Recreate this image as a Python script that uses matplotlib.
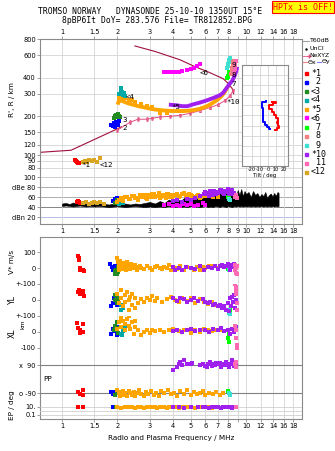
import matplotlib
matplotlib.use("Agg")
import matplotlib.pyplot as plt
from matplotlib.lines import Line2D
from matplotlib.patches import Rectangle

W, H = 335, 451

# echo traces (name shown in legend, colour)
trace_names = ['*1', ' 2', '<3', '<4', '*5', '<6', ' 7', ' 8', ' 9', '*10', ' 11', '<12']
trace_colors = ['#ff0000', '#0000ff', '#228b22', '#00a8a8', '#ffa500', '#ff00ff',
                '#00ff00', '#f08080', '#40e0d0', '#a020f0', '#ff69b4', '#daa520']

freq_ticks = [1, 1.5, 2, 3, 4, 5, 6, 7, 8, 9, 10, 12, 14, 16, 18]

# virtual height R' (km) per trace
vh_f = {'*1': [1.17, 1.19, 1.2, 1.21, 1.22, 1.23],
        '<12': [1.3, 1.33, 1.36, 1.4, 1.45, 1.5, 1.55, 1.6],
        ' 2': [1.85, 1.9, 1.92, 1.95, 1.97, 2.0, 2.02, 2.05],
        '<3': [1.92, 1.95, 1.97, 2.0, 2.02, 2.04, 2.06],
        '<4': [2.05, 2.08, 2.1, 2.12, 2.15, 2.18, 2.2],
        '<6': [3.6, 3.75, 3.9, 4.1, 4.3, 4.5, 4.8, 5.0, 5.2, 5.4, 5.6],
        ' 7': [7.9, 7.95, 8.0, 8.05, 8.1],
        ' 8': [8.3, 8.35, 8.4, 8.45, 8.5],
        ' 9': [7.9, 7.95, 8.0, 8.05, 8.1, 8.15],
        ' 11': [8.6, 8.65, 8.7, 8.75, 8.8]}
vh_km = {'*1': [91, 90, 89, 88, 87, 86],
         '<12': [88, 90, 89, 91, 90, 92, 89, 95],
         ' 2': [172, 168, 178, 165, 182, 175, 170, 185],
         '<3': [195, 200, 205, 198, 210, 203, 196],
         '<4': [300, 315, 330, 310, 295, 305, 290],
         '<6': [440, 440, 440, 442, 445, 450, 460, 470, 480, 495, 510],
         ' 7': [395, 405, 415, 425, 440],
         ' 8': [430, 455, 480, 505, 540],
         ' 9': [480, 495, 510, 530, 545, 565],
         ' 11': [440, 465, 490, 515, 540]}
f5_freq = [2.02, 2.05, 2.1, 2.15, 2.2, 2.3, 2.4, 2.5, 2.6, 2.8, 3.0, 3.2, 3.4, 3.6, 3.8, 4.0,
           4.3, 4.6, 5.0, 5.3, 5.6, 6.0, 6.3, 6.6, 7.0, 7.3, 7.6, 7.9]
f5_km = [255, 270, 265, 262, 258, 252, 248, 244, 240, 235, 230, 226, 224, 222, 221, 220,
         220, 220, 222, 225, 229, 237, 245, 255, 270, 285, 305, 335]
f5_extra_freq = [2.05, 2.1, 2.15, 2.2, 2.3, 2.4, 2.5, 2.7, 2.9, 3.1, 3.4, 3.7]
f5_extra_km = [282, 288, 276, 279, 270, 266, 258, 250, 242, 236, 214, 212]
f10_freq = [3.9, 4.2, 4.5, 4.8, 5.15, 5.6, 6.0, 6.36, 6.8, 7.2, 7.5, 7.85, 8.1, 8.4, 8.6, 8.75, 8.9]
f10_km = [246, 244, 240, 240, 248, 256, 264, 272, 282, 292, 305, 334, 355, 378, 405, 429, 470]

# model profile and NeXYZ points
model_freq = [0.76, 1.12, 2.0, 2.1]
model_km = [105, 109, 160, 166]
upper_freq = [2.49, 3.2, 4.38, 5.16, 6.3, 7.5, 8.0, 8.4, 8.55]
upper_km = [706, 640, 551, 494, 440, 393, 360, 329, 300]
nexyz_freq = [2.0, 2.34, 2.59, 2.89, 3.08, 3.41, 3.86, 4.38, 4.96, 5.62, 6.36, 7.04, 7.7, 8.18, 8.5]
nexyz_km = [156, 180, 190, 190, 193, 198, 200, 204, 211, 222, 234, 247, 266, 290, 318]

# trace labels in the R' panel
label_text = ['*1', '<12', '2', '3', '<4', '*5', '<6', '7', '8', '9', '11', '*10']
label_freq = [1.27, 1.6, 2.12, 2.12, 2.22, 3.95, 5.6, 8.3, 8.3, 8.35, 9.5, 7.8]
label_km = [84, 84, 162, 187, 282, 236, 432, 360, 418, 505, 470, 258]

# amplitude panel (dB)
black_f = [1.0, 1.05, 1.1, 1.15, 1.2, 1.25, 1.3, 1.35, 1.4, 1.45, 1.5, 1.55, 1.6, 1.7, 1.8,
           1.9, 2.0, 2.1, 2.2, 2.35, 2.5, 2.65, 2.8, 3.0, 3.2, 3.4, 3.6, 3.8, 4.0, 4.2,
           4.4, 4.6, 4.8, 5.0, 5.2, 5.4, 5.6, 5.8, 6.0, 6.2, 6.4, 6.6, 6.8, 7.0, 7.2,
           7.4, 7.6, 7.8, 8.0, 8.2, 8.4, 8.6, 8.8, 9.0, 9.2, 9.4, 9.6, 9.8, 10.0, 10.3,
           10.6, 10.9, 11.2, 11.5, 11.8, 12.1, 12.4, 12.7, 13.0, 13.3, 13.6, 13.9, 14.2, 14.5,
           14.8, 15.0]
black_hi = [47, 48, 46, 49, 47, 50, 48, 46, 49, 47, 46, 48, 47, 46, 45,
            47, 48, 46, 47, 45, 47, 46, 48, 50, 47, 52, 48, 55, 50, 56,
            52, 58, 54, 60, 55, 57, 62, 58, 65, 72, 68, 75, 70, 74, 68,
            72, 66, 70, 64, 68, 62, 66, 60, 74, 64, 76, 62, 72, 66, 70,
            60, 72, 64, 68, 60, 66, 62, 70, 58, 64, 67, 61, 68, 62, 70, 68]
black_lo = [42, 43, 42, 41, 42, 43, 42, 41, 42, 42, 41, 42, 42, 41, 40,
            41, 42, 41, 40, 41, 42, 41, 40, 41, 40, 41, 40, 42, 40, 41,
            40, 41, 40, 42, 40, 41, 40, 41, 42, 40, 41, 40, 42, 41, 40,
            42, 41, 40, 42, 41, 40, 42, 41, 42, 41, 42, 41, 42, 41, 42,
            41, 42, 41, 42, 41, 42, 41, 42, 41, 42, 41, 42, 41, 42, 41, 42]
db_f = {'*1': [1.2, 1.22, 1.24, 1.26],
        '<12': [1.3, 1.35, 1.4, 1.45, 1.5, 1.55, 1.6, 1.7],
        ' 2': [1.9, 1.95, 2.0],
        '<3': [1.95, 2.0, 2.05],
        '<4': [2.05, 2.1, 2.15],
        '*5': [2.0, 2.05, 2.1, 2.15, 2.2, 2.3, 2.4, 2.5, 2.6, 2.7, 2.8, 2.9, 3.0, 3.1, 3.2, 3.3,
               3.4, 3.5, 3.6, 3.7, 3.8, 3.9, 4.0, 4.2, 4.4, 4.6, 4.8, 5.0, 5.2, 5.4, 5.6, 5.8,
               6.0, 6.3, 6.6, 7.0, 2.12, 2.25, 2.35, 2.45, 2.55, 2.65, 2.75, 2.85, 2.95, 3.05,
               3.15, 3.25, 3.35, 3.45, 3.55, 3.65, 3.75, 3.85, 3.95, 4.1, 4.3, 4.5, 4.7, 4.9,
               5.1, 5.3, 5.5, 5.7, 5.9, 6.1],
        '<6': [3.6, 3.8, 4.0, 4.2, 4.4, 4.6, 4.8, 5.0, 5.2, 5.5, 5.8, 6.0],
        '*10': [4.0, 4.2, 4.5, 4.8, 5.0, 5.3, 5.6, 5.9, 6.0, 6.2, 6.4, 6.6, 6.8, 7.0, 7.2, 7.4,
                7.6, 7.8, 8.0, 8.2, 8.4, 8.6, 8.8, 6.1, 6.3, 6.5, 6.7, 6.9, 7.1, 7.3, 7.5, 7.7,
                7.9, 8.1, 8.3, 8.5],
        ' 7': [8.0, 8.1], ' 9': [8.1, 8.2], ' 11': [8.7, 8.8, 8.9]}
db_val = {'*1': [50, 53, 51, 49],
          '<12': [48, 50, 47, 49, 51, 48, 50, 47],
          ' 2': [52, 56, 58],
          '<3': [48, 54, 50],
          '<4': [46, 50, 48],
          '*5': [50, 55, 58, 52, 60, 56, 62, 58, 55, 60, 64, 57, 61, 66, 60, 63,
                 58, 65, 62, 67, 60, 64, 62, 66, 63, 68, 64, 65, 60, 62, 58, 63,
                 66, 64, 61, 60, 55, 60, 57, 63, 59, 65, 61, 58, 64, 60, 66, 62,
                 68, 61, 64, 59, 66, 63, 60, 64, 60, 66, 62, 67, 63, 60, 65, 61, 64, 62],
          '<6': [44, 46, 42, 45, 43, 47, 44, 46, 43, 45, 48, 44],
          '*10': [52, 55, 50, 56, 54, 58, 62, 66, 70, 68, 72, 65, 70, 68, 74, 70,
                  66, 72, 76, 70, 74, 68, 64, 66, 63, 69, 73, 66, 71, 75, 68, 73,
                  70, 67, 72, 66],
          ' 7': [60, 58], ' 9': [56, 54], ' 11': [60, 64, 58]}

# doppler velocity V* (m/s)
vs_f = {'*1': [1.22, 1.23, 1.24, 1.25, 1.25, 1.3, 1.31],
        ' 2': [1.82, 1.86, 1.9, 1.93, 1.96, 1.98, 2.0],
        '<3': [1.93, 1.95, 1.97, 1.99, 2.01, 2.02],
        '<4': [2.05, 2.07, 2.1, 2.12, 2.15],
        '*5': [2.0, 2.02, 2.04, 2.05, 2.07, 2.08, 2.1, 2.12, 2.14, 2.15, 2.18, 2.2, 2.22, 2.25,
               2.28, 2.3, 2.33, 2.36, 2.4, 2.45, 2.5, 2.55, 2.6, 2.65, 2.7, 2.8, 2.9, 3.0,
               3.1, 3.2, 3.3, 3.4, 3.5, 3.6, 3.7, 3.8, 3.9, 4.0, 4.1, 4.2, 4.4, 4.6, 4.8,
               5.0, 5.2, 5.4, 5.6, 5.8, 6.0, 6.3, 6.6, 7.0],
        '*10': [4.0, 4.1, 4.3, 4.5, 4.7, 5.0, 5.3, 5.6, 5.9, 6.2, 6.5, 6.8, 7.0, 7.2, 7.4,
                7.6, 7.8, 8.0, 8.1, 8.2, 8.3, 8.4, 8.5, 8.6, 8.7],
        ' 7': [8.0, 8.05], ' 9': [8.1],
        ' 11': [8.7, 8.75, 8.8, 8.85, 8.9, 8.9]}
vs_val = {'*1': [75, 62, 48, 0, -15, -10, -20],
          ' 2': [25, 5, -10, 10, -5, 15, 0],
          '<3': [-20, -35, -10, -40, -25, 5],
          '<4': [40, 30, 20, -5, 10],
          '*5': [60, 35, 15, -10, 45, 5, 25, -5, 30, 10, 0, 20, -15, 35,
                 5, 15, -5, 25, 10, 0, 20, -10, 5, 15, 0, -5, 10, 0,
                 -10, 5, 15, 0, -5, 5, 0, 20, -10, 5, 0, -5, 10, -10, 5,
                 0, -15, 5, -10, 5, 0, 10, 15, 0],
          '*10': [5, -10, 0, -15, 5, 0, -5, 10, -10, 5, 0, 15, -5, 10, 20,
                  5, 15, 25, 10, -10, 20, 5, 15, 25, 10],
          ' 7': [-5, -15], ' 9': [-10],
          ' 11': [20, -10, -30, 0, -40, 10]}

# YL (km)
yl_f = {'*1': [1.22, 1.24, 1.25, 1.3, 1.31, 1.3],
        ' 2': [1.85, 1.9, 1.92, 1.95, 1.97, 2.0],
        '<3': [1.93, 1.95, 1.98, 2.0, 2.02],
        '<4': [2.08, 2.1, 2.15, 2.2],
        '*5': [2.0, 2.05, 2.1, 2.1, 2.15, 2.2, 2.2, 2.25, 2.3, 2.3, 2.35, 2.4, 2.4, 2.5, 2.5,
               2.6, 2.7, 2.8, 2.9, 3.0, 3.1, 3.2, 3.3, 3.5, 3.7, 3.9, 4.1, 4.3, 4.5, 4.8,
               5.0, 5.3, 5.6, 5.9, 6.2, 6.5, 6.8, 7.2],
        '*10': [4.0, 4.2, 4.4, 4.6, 4.8, 5.0, 5.2, 5.5, 5.8, 6.0, 6.2, 6.4, 6.6, 6.8, 7.0,
                7.2, 7.4, 7.6, 7.8, 8.0, 8.1, 8.2, 8.3, 8.4, 8.5, 8.6, 8.7, 8.8],
        ' 7': [8.1, 8.15], ' 9': [8.05, 8.1, 8.15],
        ' 11': [8.75, 8.8, 8.85, 8.9, 8.9, 8.85]}
yl_val = {'*1': [50, 62, 37, 45, 27, 55],
          ' 2': [-40, -20, 10, -5, 20, -30],
          '<3': [0, 30, -20, 10, -10],
          '<4': [-60, -30, -50, -10],
          '*5': [40, -20, 60, 10, -40, 30, -10, 50, -60, 0, 20, -30, 40, -50, 10,
                 -20, 5, -10, 15, 0, 25, -5, 10, -15, 5, 20, 0, -10, 15, -5,
                 10, -20, 5, -10, -25, -15, -30, -40],
          '*10': [10, -5, 15, 5, -10, 0, 10, -5, 5, -10, -20, -15, -30, -25, -40,
                  -30, -50, -35, -60, -20, -70, 10, -40, 20, -10, 30, -50, 0],
          ' 7': [110, -60], ' 9': [-80, -60, -90],
          ' 11': [100, 80, 40, -20, -60, 60]}

# XL (km)
xl_f = {'*1': [1.2, 1.22, 1.25, 1.25, 1.3, 1.3],
        ' 2': [1.85, 1.9, 1.95, 1.98, 2.0],
        '<3': [1.92, 1.95, 1.98, 2.0, 2.02],
        '<4': [2.08, 2.12, 2.15, 2.2],
        '*5': [2.0, 2.05, 2.1, 2.1, 2.15, 2.2, 2.2, 2.25, 2.3, 2.3, 2.35, 2.4, 2.45, 2.5, 2.5,
               2.6, 2.7, 2.8, 2.9, 3.0, 3.1, 3.2, 3.4, 3.6, 3.8, 4.0, 4.3, 4.6, 5.0, 5.3,
               5.6, 5.9, 6.2, 6.5, 6.8, 7.2],
        '*10': [4.0, 4.2, 4.5, 4.8, 5.0, 5.3, 5.6, 6.0, 6.3, 6.6, 7.0, 7.3, 7.6, 8.0, 8.2,
                8.4, 8.6, 8.8],
        ' 7': [8.0, 8.1, 8.05],
        ' 11': [8.75, 8.8, 8.85, 8.9, 8.9]}
xl_val = {'*1': [55, 25, 10, -5, 50, 0],
          ' 2': [-10, 20, 5, -20, 30],
          '<3': [10, 40, 60, 25, -5],
          '<4': [-10, -20, 5, 40],
          '*5': [20, 60, 90, 30, 70, 10, 50, 80, 40, 100, 20, 60, -10, 30, 70,
                 10, -20, 0, 15, -5, 10, 5, 15, 0, 10, 20, 5, 10, -5, 15,
                 0, 20, 10, 5, 15, 10],
          '*10': [5, 15, 0, 10, 20, 5, 10, 15, 0, 20, 10, 25, 5, 15, -10,
                  20, 0, 30],
          ' 7': [-40, -60, -10],
          ' 11': [40, 10, -40, -80, -100]}

# polarisation PP (deg)
pp_f = {'*1': [1.22, 1.25, 1.3, 1.3],
        ' 2': [1.85, 1.9, 1.95],
        '<3': [1.95, 2.0],
        '*5': [2.0, 2.03, 2.06, 2.09, 2.12, 2.15, 2.18, 2.21, 2.25, 2.3, 2.35, 2.4, 2.45, 2.5,
               2.56, 2.62, 2.7, 2.78, 2.86, 2.95, 3.05, 3.15, 3.25, 3.35, 3.45, 3.6, 3.75,
               3.9, 4.05, 4.2, 4.4, 4.6, 4.8, 5.0, 5.2, 5.4, 5.6, 5.8, 6.0, 6.3, 6.6, 6.9,
               7.2, 7.5],
        '*10': [4.0, 4.2, 4.3, 4.4, 4.5, 4.6, 4.8, 5.0, 5.1, 5.6, 5.8, 6.0, 6.2, 6.4, 6.6,
                6.8, 7.0, 7.2, 7.4, 7.6, 7.8, 8.0, 8.2, 8.4, 8.6, 8.8, 6.1, 6.5, 6.9, 7.3,
                7.7, 8.1, 8.5],
        ' 7': [8.0], ' 9': [8.1, 8.15, 8.2],
        ' 11': [8.75, 8.8, 8.85]}
pp_val = {'*1': [-80, -95, -70, -105],
          ' 2': [-85, -95, -80],
          '<3': [-100, -90],
          '*5': [-72, -92, -108, -85, -99, -76, -104, -88, -112, -74, -90, -100, -80, -106,
                 -87, -71, -95, -109, -84, -98, -75, -103, -89, -110, -79, -91, -70, -97,
                 -88, -107, -78, -93, -73, -101, -86, -96, -90, -77, -105, -87, -94, -82,
                 -100, -89],
          '*10': [60, 80, 100, 110, 90, 120, 95, 100, 105, 90, 100, 85, 95, 110, 100,
                  90, 95, 105, 100, 90, 110, 95, 100, 120, 85, 90, 78, 84, 102, 80,
                  88, 76, 105],
          ' 7': [-75], ' 9': [-90, -95, -100],
          ' 11': [100, 80, 110]}

# EP (deg)
ep_f = {'*1': [1.22, 1.3],
        ' 2': [1.9, 1.95],
        '<3': [1.97, 2.0],
        '*5': [2.0, 2.1, 2.2, 2.3, 2.4, 2.5, 2.6, 2.7, 2.8, 2.9, 3.0, 3.1, 3.2, 3.3, 3.4, 3.5,
               3.6, 3.7, 3.8, 3.9, 4.0, 4.15, 4.3, 4.45, 4.6, 4.8, 5.0, 5.25, 5.5, 5.75, 6.0,
               6.25, 6.5],
        '*10': [4.0, 4.3, 4.6, 5.0, 5.5, 5.8, 6.0, 6.3, 6.5, 6.8, 7.0, 7.3, 7.5, 7.8, 8.0,
                8.2, 8.4, 8.6, 8.8],
        ' 11': [8.8, 8.85]}
ep_val = {'*1': [9, 10],
          ' 2': [11, 10],
          '<3': [9, 10],
          '*5': [10, 7, 12, 8, 11, 6, 10, 13, 7, 9, 12, 8, 10, 6, 11, 9, 13, 7, 10, 8,
                 12, 9, 6, 11, 8, 10, 13, 7, 9, 12, 8, 10, 7],
          '*10': [9, 12, 7, 11, 8, 10, 13, 7, 11, 9, 12, 6, 10, 8, 12, 9, 7, 11, 10],
          ' 11': [10, 12]}

# tilt inset
tilt_red_deg = [4.6, 8.8, 10.8, 2, 0.5, 3, 6, 8.8, 11, 12.9, 10, 15, 12.9, 9]
tilt_red_km = [418, 415, 412, 400, 392, 380, 365, 352, 340, 320, 311, 300, 288, 276]
tilt_blue_deg = [-2, -3.8, -10, -5.8, -7.9, -3.8, -7.9, -5.8, -2.5, 0.4, 2.5]
tilt_blue_km = [420, 418, 402, 386, 369, 352, 336, 319, 303, 292, 282]

colors = dict(zip(trace_names, trace_colors))
tick_font = dict(fontsize=4.8, family='DejaVu Sans')
FLIM = (0.76, 20.1)


def pax(x0, y0, x1, y1, **kw):
    return fig.add_axes([x0 / W, 1 - y1 / H, (x1 - x0) / W, (y1 - y0) / H], **kw)


def setup_freq(ax, labels=None, where='bottom'):
    ax.set_xscale('log')
    ax.set_xlim(*FLIM)
    ax.xaxis.set_minor_locator(matplotlib.ticker.NullLocator())
    ax.set_xticks(freq_ticks)
    ax.grid(True, axis='x', color='#d4d4d4', lw=0.6)
    if labels is None:
        ax.set_xticklabels([])
        ax.tick_params(axis='x', length=0)
    else:
        ax.set_xticklabels([str(t) if t in labels else '' for t in freq_ticks], **tick_font)
        ax.tick_params(axis='x', length=2, width=0.6, color='#909090', pad=1,
                       top=(where == 'top'), bottom=(where == 'bottom'),
                       labeltop=(where == 'top'), labelbottom=(where == 'bottom'))


def frame(ax, sides):
    for s in ['left', 'right', 'top', 'bottom']:
        ax.spines[s].set_visible(s in sides)
        ax.spines[s].set_color('#8a8a8a')
        ax.spines[s].set_linewidth(0.8)


def ylabels(ax, ticks, labels):
    ax.set_yticks(ticks)
    ax.set_yticklabels(labels, **tick_font)
    ax.tick_params(axis='y', length=2, width=0.6, color='#909090', pad=1)


def sq(ax, fdict, vdict, s=7):
    for name in trace_names:
        if name in fdict:
            ax.scatter(fdict[name], vdict[name], s=s, marker='s', color=colors[name],
                       linewidths=0, zorder=3, antialiased=False)


fig = plt.figure(figsize=(W / 100, H / 100), dpi=100)
fig.patch.set_facecolor('white')

no9 = [t for t in freq_ticks if t != 9]

# ---------- R' panel
ax_r = pax(40, 39, 302, 170)
ax_r.set_yscale('log')
ax_r.set_ylim(76.5, 800)
ax_r.yaxis.set_minor_locator(matplotlib.ticker.NullLocator())
setup_freq(ax_r, no9, 'top')
ylabels(ax_r, [80, 90, 100, 120, 150, 200, 300, 400, 600, 800],
        ['80', '90', '100', '120', '150', '200', '300', '400', '600', '800'])
ax_r.grid(True, axis='y', color='#d4d4d4', lw=0.6)
frame(ax_r, ['left', 'right', 'top'])
ax_r.plot(model_freq, model_km, color='#a0103c', lw=0.8)
ax_r.plot(upper_freq, upper_km, color='#a0103c', lw=0.8)
ax_r.errorbar(nexyz_freq, nexyz_km, yerr=[[6] * len(nexyz_km), [6] * len(nexyz_km)],
              color='#e05080', lw=0.7, marker='s', ms=1.6, mfc='none', mew=0.5,
              capsize=1, elinewidth=0.5)
ax_r.plot(f5_freq, f5_km, color=colors['*5'], lw=2.8, zorder=3)
ax_r.scatter(f5_extra_freq, f5_extra_km, s=6, marker='s', color=colors['*5'], linewidths=0,
             zorder=3, antialiased=False)
ax_r.plot(f10_freq, f10_km, color=colors['*10'], lw=2.8, zorder=3)
sq(ax_r, vh_f, vh_km, s=6)
for t, f, h in zip(label_text, label_freq, label_km):
    ax_r.text(f, h, t, fontsize=5.4, family='DejaVu Sans Mono', va='center', ha='left', zorder=5)

# ---------- dB panel
ax_db = pax(40, 170, 302, 224)
ax_db.set_ylim(6, 114)
setup_freq(ax_db, freq_ticks, 'bottom')
ylabels(ax_db, [20, 40, 60, 80, 100], ['dBn 20', '40', '60', 'dBe 80', '100'])
for v, c in [(100, '#c8c8c8'), (80, '#a0a0a0'), (60, '#a0a0a0'), (40, '#707070'), (20, '#b0b0e8')]:
    ax_db.axhline(v, color=c, lw=0.6, zorder=1)
frame(ax_db, ['left', 'right', 'bottom'])
ax_db.fill_between(black_f, black_lo, black_hi, color='black', lw=0.4, zorder=2)
sq(ax_db, db_f, db_val, s=6)

# ---------- lower frame
ax_lo = pax(40, 237, 302, 419)
setup_freq(ax_lo, no9, 'bottom')
ax_lo.set_yticks([])
frame(ax_lo, ['left', 'right', 'top', 'bottom'])
ax_lo.set_xlabel('Radio and Plasma Frequency / MHz', fontsize=5.2, labelpad=4)


def sub(y0, y1, ylim, ticks, labels, log=False):
    a = pax(40, y0, 302, y1)
    a.patch.set_alpha(0)
    a.set_xscale('log')
    a.set_xlim(*FLIM)
    a.set_xticks([])
    a.xaxis.set_minor_locator(matplotlib.ticker.NullLocator())
    if log:
        a.set_yscale('log')
        a.yaxis.set_minor_locator(matplotlib.ticker.NullLocator())
    a.set_ylim(*ylim)
    ylabels(a, ticks, labels)
    frame(a, [])
    return a


ax_v = sub(237, 284, (-100, 194), [100, 0], ['100', '0'])
ax_yl = sub(284, 316, (-100, 100), [100, 0], ['+-100', '0'])
ax_xl = sub(316, 352, (-125, 100), [100, 0, -100], ['+-100', '0', '-100'])
ax_pp = sub(352, 401, (-141, 174), [90, -90], ['x  90', 'o -90'])
ax_ep = sub(401, 419, (0.01, 316), [10, 0.1], ['10.', '0.1'], log=True)
ax_pp.axhline(90, color='#808080', lw=0.8, zorder=1)
ax_pp.axhline(-90, color='#808080', lw=0.8, zorder=1)
for v in [10, 1, 0.1]:
    ax_ep.axhline(v, color='#d0d0d0', lw=0.6, zorder=1)
sq(ax_v, vs_f, vs_val)
sq(ax_yl, yl_f, yl_val)
sq(ax_xl, xl_f, xl_val)
sq(ax_pp, pp_f, pp_val)
sq(ax_ep, ep_f, ep_val)

# ---------- tilt inset
ax_t = pax(242, 65, 288, 166)
ax_t.set_facecolor('white')
ax_t.set_xlim(-32.5, 25)
ax_t.set_ylim(100, 600)
ax_t.set_xticks([-20, -10, 0, 10, 20])
ax_t.set_xticklabels(['-20', '-10', '0', '10', '20'], fontsize=3.6)
ax_t.set_yticks([150, 200, 250, 300, 350, 400, 450, 500, 550])
ax_t.set_yticklabels([])
ax_t.tick_params(length=0, pad=0.8)
ax_t.grid(True, color='#d4d4d4', lw=0.6)
frame(ax_t, ['left', 'right', 'top', 'bottom'])
ax_t.set_xlabel('Tilt / deg', fontsize=3.8, labelpad=0.3)
ax_t.plot(tilt_red_deg, tilt_red_km, color='#ff0000', lw=1.4, drawstyle='steps-mid')
ax_t.plot(tilt_blue_deg, tilt_blue_km, color='#0000ff', lw=1.4, drawstyle='steps-mid')

# ---------- titles
mono = 'DejaVu Sans Mono'
fig.text(150 / W, 1 - 12 / H, 'TROMSO NORWAY   DYNASONDE 25-10-10 1350UT 15°E',
         ha='center', va='center', fontsize=5.8, family=mono)
fig.text(157 / W, 1 - 20.5 / H, '8pBP6It DoY= 283.576 File= TR812852.BPG',
         ha='center', va='center', fontsize=5.8, family=mono)
fig.text(303 / W, 1 - 7 / H, 'HPTx is OFF!', ha='center', va='center', fontsize=6,
         family=mono, color='#ff0000',
         bbox=dict(boxstyle='square,pad=0.15', fc='#ffff00', ec='#ff0000', lw=0.8))

# y axis titles
fig.text(12 / W, 1 - 100 / H, "R', R / km", rotation=90, ha='center', va='center', fontsize=5.2)
fig.text(12 / W, 1 - 262 / H, 'V* m/s', rotation=90, ha='center', va='center', fontsize=5.2)
fig.text(12 / W, 1 - 300 / H, 'YL', rotation=90, ha='center', va='center', fontsize=5.5)
fig.text(23 / W, 1 - 324 / H, 'km', rotation=90, ha='center', va='center', fontsize=4.4)
fig.text(12 / W, 1 - 333 / H, 'XL', rotation=90, ha='center', va='center', fontsize=5.5)
fig.text(43 / W, 1 - 379 / H, 'PP', ha='left', va='center', fontsize=5.2)
fig.text(12 / W, 1 - 405 / H, 'EP / deg', rotation=90, ha='center', va='center', fontsize=5.2)


# ---------- legend
def fy(y):
    return 1 - y / H


fig.add_artist(Line2D([303 / W, 309 / W], [fy(41), fy(41)], color='#a0a0a0', lw=0.8))
fig.text(310 / W, fy(41), 'T60dB', fontsize=4.5, va='center')
fig.add_artist(Line2D([306 / W], [fy(48.5)], marker='.', ms=1.5, color='k', lw=0))
fig.text(310 / W, fy(48.5), 'UnCl', fontsize=4.5, va='center')
fig.add_artist(Line2D([303 / W, 309 / W], [fy(55.5), fy(55.5)], color='#e05080', lw=0.6,
                      marker='+', ms=3, markevery=[1]))
fig.text(309.5 / W, fy(55.5), 'NeXYZ', fontsize=4.3, va='center')
fig.add_artist(Line2D([303 / W, 307 / W], [fy(62), fy(62)], color='#f08080', lw=0.8))
fig.text(307.5 / W, fy(62), 'Θx', fontsize=4.5, va='center')
fig.add_artist(Line2D([317 / W, 321 / W], [fy(62), fy(62)], color='#8080ff', lw=0.8))
fig.text(321.5 / W, fy(62), 'Θy', fontsize=4.5, va='center')
for i, (n, c) in enumerate(zip(trace_names, trace_colors)):
    y = 73 + 9 * i
    fig.add_artist(Rectangle((304.5 / W, fy(y + 1.5)), 3 / W, 3 / H, color=c))
    fig.text(311 / W, fy(y), n, fontsize=6, family=mono, va='center')

fig.savefig('out.png', dpi=100)
